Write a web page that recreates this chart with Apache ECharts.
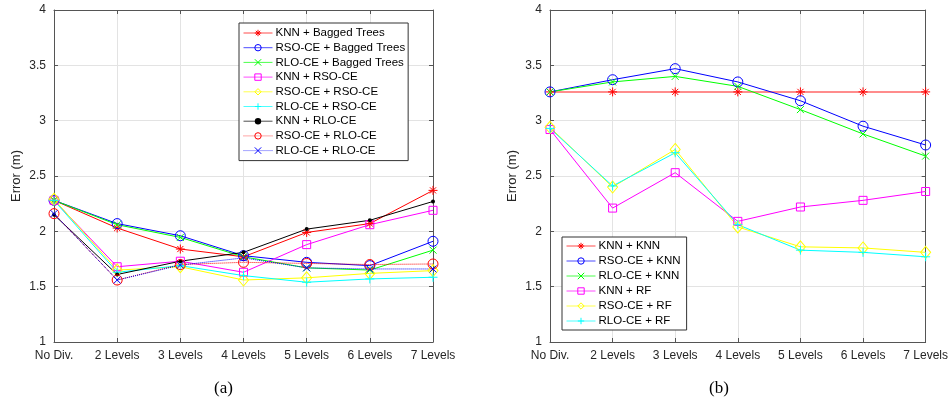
<!DOCTYPE html>
<html>
<head>
<meta charset="utf-8">
<script src="https://cdn.jsdelivr.net/npm/echarts@6/dist/echarts.min.js"></script>
<style>
html,body{margin:0;padding:0;background:#fff;}
#chart{width:951px;height:405px;}
</style>
</head>
<body>
<div id="chart"></div>
<script>
// ---- data ----
var categories = ['No Div.', '2 Levels', '3 Levels', '4 Levels', '5 Levels', '6 Levels', '7 Levels'];
var yTicks = [1, 1.5, 2, 2.5, 3, 3.5, 4];

// (a)
var knnBagged   = [2.28, 2.03, 1.84, 1.77, 1.99, 2.07, 2.37];
var rsoBagged   = [2.28, 2.07, 1.96, 1.78, 1.72, 1.69, 1.91];
var rloBagged   = [2.28, 2.06, 1.945, 1.77, 1.67, 1.65, 1.83];
var knnRsoce    = [2.28, 1.68, 1.73, 1.63, 1.88, 2.06, 2.19];
var rsoRsoce    = [2.29, 1.65, 1.68, 1.56, 1.58, 1.62, 1.645];
var rloRsoce    = [2.28, 1.63, 1.69, 1.60, 1.54, 1.57, 1.585];
var knnRloce    = [2.15, 1.61, 1.73, 1.81, 2.02, 2.10, 2.27];
var rsoRloce    = [2.16, 1.56, 1.70, 1.72, 1.71, 1.70, 1.705];
var rloRloce    = [2.16, 1.56, 1.695, 1.76, 1.67, 1.66, 1.66];

// (b)
var knnKnn = [3.26, 3.26, 3.26, 3.26, 3.26, 3.26, 3.26];
var rsoKnn = [3.26, 3.37, 3.47, 3.35, 3.18, 2.95, 2.78];
var rloKnn = [3.26, 3.35, 3.40, 3.31, 3.10, 2.88, 2.68];
var knnRf  = [2.92, 2.21, 2.53, 2.09, 2.22, 2.28, 2.36];
var rsoRf  = [2.94, 2.40, 2.74, 2.04, 1.86, 1.85, 1.81];
var rloRf  = [2.93, 2.41, 2.71, 2.06, 1.83, 1.81, 1.77];

// ---- styling helpers ----
var FONT = 'Liberation Sans, Arial, sans-serif';
var AXIS_COLOR = '#555';
var TEXT_COLOR = '#262626';
var GRID_COLOR = '#e3e3e3';

var SYM = {
  asterisk: 'path://M5,0L5,10M0,5L10,5M1.6,1.6L8.4,8.4M8.4,1.6L1.6,8.4',
  xmark: 'path://M0,0L10,10M10,0L0,10',
  plus: 'path://M5,0L5,10M0,5L10,5',
  circle: 'circle',
  square: 'rect',
  diamond: 'diamond',
  dot: 'circle'
};

function mkSeries(name, data, color, marker, dotted, gi) {
  var sizes = {asterisk: 9, xmark: 7, plus: 9, circle: 10, square: 8, diamond: [10, 12], dot: 4};
  return {
    name: name,
    type: 'line',
    data: data,
    xAxisIndex: gi * 2,
    yAxisIndex: gi * 2,
    symbol: SYM[marker],
    symbolSize: sizes[marker],
    showAllSymbol: true,
    animation: false,
    lineStyle: {color: color, width: 1, type: dotted ? 'dotted' : 'solid'},
    itemStyle: marker === 'dot'
      ? {color: color, borderColor: color, borderWidth: 0}
      : {color: 'rgba(0,0,0,0)', borderColor: color, borderWidth: 1},
    emphasis: {disabled: true},
    _marker: marker, _color: color, _dotted: dotted
  };
}

function gridAxes(gi) {
  var xs = [
    {
      gridIndex: gi, type: 'category', data: categories, boundaryGap: false,
      axisLine: {lineStyle: {color: AXIS_COLOR, width: 1}},
      axisTick: {inside: true, length: 4, lineStyle: {color: AXIS_COLOR}},
      axisLabel: {fontSize: 12, color: TEXT_COLOR, fontFamily: FONT, margin: 8, interval: 0},
      splitLine: {show: true, lineStyle: {color: GRID_COLOR, width: 1}}
    },
    {
      gridIndex: gi, type: 'category', data: categories, boundaryGap: false, position: 'top',
      axisLine: {lineStyle: {color: AXIS_COLOR, width: 1}},
      axisTick: {inside: true, length: 4, lineStyle: {color: AXIS_COLOR}},
      axisLabel: {show: false}, splitLine: {show: false}
    }
  ];
  var ys = [
    {
      gridIndex: gi, type: 'value', min: yTicks[0], max: yTicks[yTicks.length - 1], interval: 0.5,
      name: 'Error (m)', nameLocation: 'middle', nameGap: 31,
      nameTextStyle: {fontSize: 13, color: TEXT_COLOR, fontFamily: FONT},
      axisLine: {show: true, lineStyle: {color: AXIS_COLOR, width: 1}},
      axisTick: {show: true, inside: true, length: 4, lineStyle: {color: AXIS_COLOR}},
      axisLabel: {fontSize: 12, color: TEXT_COLOR, fontFamily: FONT, margin: 8},
      splitLine: {show: true, lineStyle: {color: GRID_COLOR, width: 1}}
    },
    {
      gridIndex: gi, type: 'value', min: yTicks[0], max: yTicks[yTicks.length - 1], interval: 0.5, position: 'right',
      axisLine: {show: true, lineStyle: {color: AXIS_COLOR, width: 1}},
      axisTick: {show: true, inside: true, length: 4, lineStyle: {color: AXIS_COLOR}},
      axisLabel: {show: false}, splitLine: {show: false}
    }
  ];
  return {xs: xs, ys: ys};
}

var a0 = gridAxes(0), a1 = gridAxes(1);

var seriesA = [
  mkSeries('KNN + Bagged Trees', knnBagged, '#ff0000', 'asterisk', false, 0),
  mkSeries('RSO-CE + Bagged Trees', rsoBagged, '#0000ff', 'circle', false, 0),
  mkSeries('RLO-CE + Bagged Trees', rloBagged, '#00ff00', 'xmark', false, 0),
  mkSeries('KNN + RSO-CE', knnRsoce, '#ff00ff', 'square', false, 0),
  mkSeries('RSO-CE + RSO-CE', rsoRsoce, '#ffff00', 'diamond', false, 0),
  mkSeries('RLO-CE + RSO-CE', rloRsoce, '#00ffff', 'plus', false, 0),
  mkSeries('KNN + RLO-CE', knnRloce, '#000000', 'dot', false, 0),
  mkSeries('RSO-CE + RLO-CE', rsoRloce, '#ff0000', 'circle', true, 0),
  mkSeries('RLO-CE + RLO-CE', rloRloce, '#0000ff', 'xmark', true, 0)
];
var seriesB = [
  mkSeries('KNN + KNN', knnKnn, '#ff0000', 'asterisk', false, 1),
  mkSeries('RSO-CE + KNN', rsoKnn, '#0000ff', 'circle', false, 1),
  mkSeries('RLO-CE + KNN', rloKnn, '#00ff00', 'xmark', false, 1),
  mkSeries('KNN + RF', knnRf, '#ff00ff', 'square', false, 1),
  mkSeries('RSO-CE + RF', rsoRf, '#ffff00', 'diamond', false, 1),
  mkSeries('RLO-CE + RF', rloRf, '#00ffff', 'plus', false, 1)
];
seriesB[0].lineStyle = {color: 'rgba(255,0,0,0.45)', width: 2};

function legendItem(s) {
  var c = s._color;
  return {
    name: s.name,
    itemStyle: s._marker === 'dot'
      ? {color: c, borderColor: c, borderWidth: 0}
      : {color: 'rgba(0,0,0,0)', borderColor: c, borderWidth: 1},
    lineStyle: {color: c, width: 1, type: s._dotted ? 'dotted' : 'solid', opacity: 0.7}
  };
}

function mkLegend(series, left, top, padding, gap) {
  return {
    show: true,
    orient: 'vertical',
    left: left, top: top,
    data: series.map(legendItem),
    itemWidth: 29, itemHeight: 8, itemGap: gap,
    padding: padding,
    backgroundColor: '#fff',
    borderColor: '#333', borderWidth: 1, borderRadius: 0,
    selectedMode: false,
    textStyle: {fontSize: 11.5, color: '#000', fontFamily: FONT, lineHeight: 12, padding: [0, 0, 0, -2]}
  };
}

var chart = echarts.init(document.getElementById('chart'), null, {renderer: 'canvas'});
var allSeries = seriesA.concat(seriesB).map(function (s) {
  var o = {};
  for (var k in s) if (k.charAt(0) !== '_') o[k] = s[k];
  return o;
});
chart.setOption({
  backgroundColor: '#fff',
  animation: false,
  grid: [
    {left: 54, top: 10, width: 379, height: 332, show: false},
    {left: 550, top: 10, width: 378, height: 332, show: false}
  ],
  xAxis: a0.xs.concat(a1.xs),
  yAxis: a0.ys.concat(a1.ys),
  legend: [
    mkLegend(seriesA, 239, 23, [4, 3, 4, 4], 2.7),
    mkLegend(seriesB, 562, 237, [3, 6, 3, 4], 3)
  ],
  graphic: [
    {type: 'text', left: 214, top: 380, style: {text: '(a)', font: '17px "Liberation Serif", serif', fill: '#000'}},
    {type: 'text', left: 709, top: 380, style: {text: '(b)', font: '17px "Liberation Serif", serif', fill: '#000'}}
  ],
  series: allSeries
});
</script>
</body>
</html>
